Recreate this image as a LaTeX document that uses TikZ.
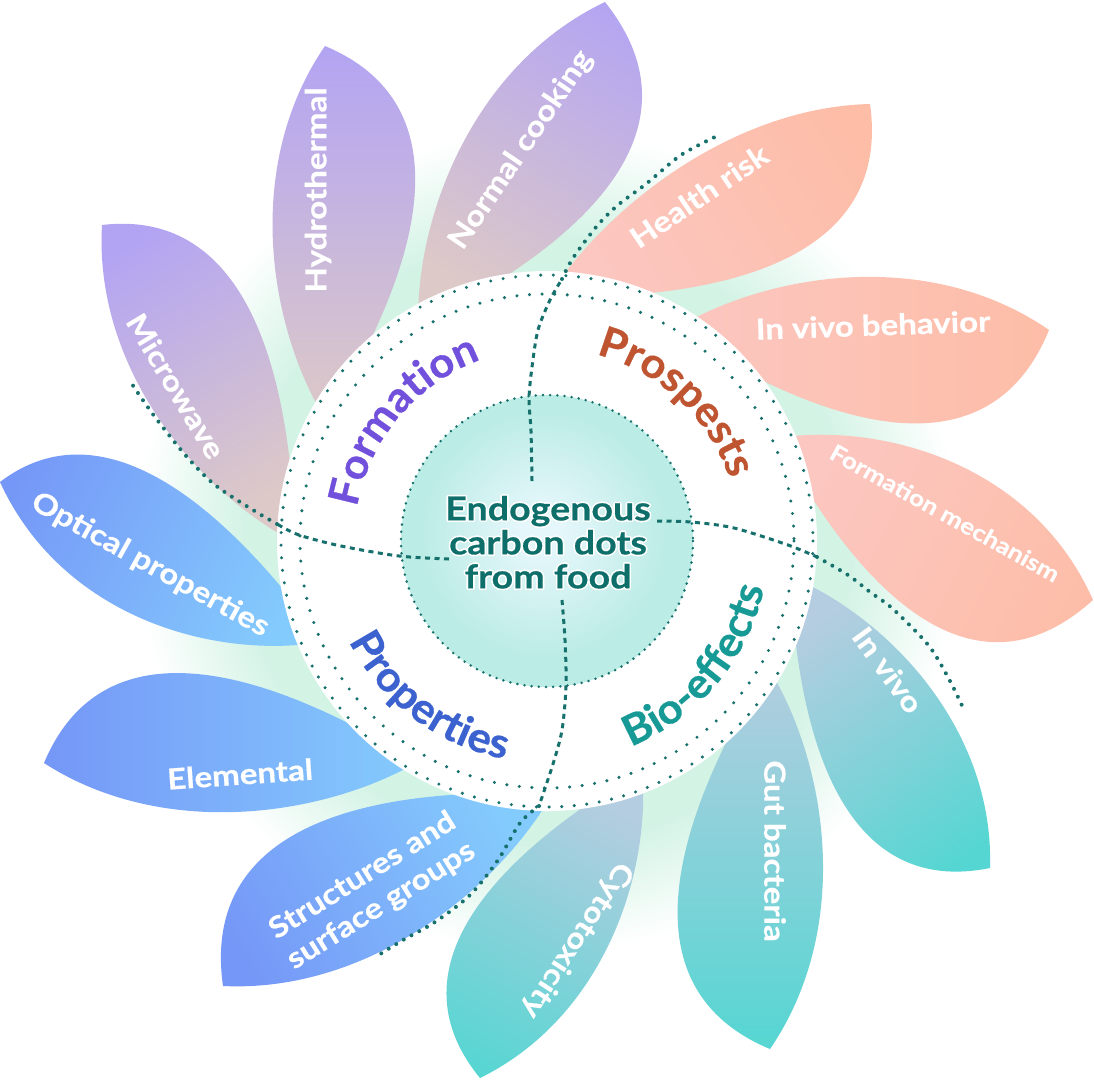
\documentclass[tikz,border=0pt]{standalone}
\usepackage{fontspec}
\setmainfont{Lato}[FakeStretch=1.14, BoldFeatures={FakeBold=0.5}]
\newfontfamily\catfam{Lato}[FakeStretch=1.04, BoldFeatures={FakeBold=0.6}]
\usepackage{contour}
\contourlength{1.5pt}
\usetikzlibrary{calc,decorations.text}

\definecolor{dotc}{HTML}{16706C}
\definecolor{haloc}{HTML}{D3F3E5}
\definecolor{purpT}{HTML}{B3A4F3}
\definecolor{purpB}{HTML}{DDC9C7}
\definecolor{salT}{HTML}{FDBDA7}
\definecolor{salB}{HTML}{FCC7C1}
\definecolor{tealT}{HTML}{55D6D2}
\definecolor{tealB}{HTML}{B4CDE0}
\definecolor{blueT}{HTML}{7597F7}
\definecolor{blueB}{HTML}{84CBFD}
\definecolor{formc}{HTML}{7150DC}
\definecolor{prosc}{HTML}{BF5430}
\definecolor{propc}{HTML}{3B62CF}
\definecolor{bioc}{HTML}{179A95}
\definecolor{centc}{HTML}{0E6F6A}
\definecolor{coreE}{HTML}{BCECE6}
\definecolor{coreC}{HTML}{E6F7FB}

% the 25bp radius of a radial shading maps onto the circle's radius
\pgfdeclareradialshading{halo}{\pgfpoint{0bp}{0bp}}{color(0bp)=(haloc); color(18bp)=(haloc); color(24.5bp)=(white); color(50bp)=(white)}
\pgfdeclareradialshading{core}{\pgfpoint{-1bp}{2bp}}{color(0bp)=(coreC); color(3bp)=(coreC); color(21bp)=(coreE); color(50bp)=(coreE)}

\newcommand\catfont{\catfam\fontsize{42}{42}\selectfont\bfseries}

% id, base, tip, ccw width, cw width, tip colour, base colour, shading angle
\newcommand\petal[8]{%
  \coordinate (#1B) at ($#2!-0.08!#3$);
  \coordinate (#1T) at #3;
  \coordinate (#1V) at ($(#1B)!1!90:(#1T)-(#1B)$);
  \shade[top color=#6, bottom color=#7, shading angle=#8]
    (#1B) .. controls ($(#1B)!0.25!(#1T)+{0.9*#4}*(#1V)$) and ($(#1B)!0.68!(#1T)+{1.3*#4}*(#1V)$) .. (#1T)
    .. controls ($(#1B)!0.8!(#1T)-{1.75*#5}*(#1V)$) and ($(#1B)!0.2!(#1T)-{0.45*#5}*(#1V)$) .. (#1B) -- cycle;
}

\begin{document}
\begin{tikzpicture}[x=1pt, y=-1pt,
  plabel/.style={text=white, font=\fontsize{29}{35}\selectfont\bfseries, inner sep=0pt, align=center},
  ringdot/.style={dotc, line width=3.4pt, line cap=round, dash pattern=on 0pt off 12.6pt},
  innerdot/.style={dotc, line width=2.8pt, line cap=round, dash pattern=on 0pt off 7.2pt},
  dashline/.style={dotc, line width=3pt, dash pattern=on 5pt off 4.5pt},
  petaldot/.style={dotc, line width=4pt, line cap=round, dash pattern=on 0pt off 8.8pt},
]
\useasboundingbox (0,0) rectangle (1094,1082);
\clip (0,0) rectangle (1094,1082);
\fill[white] (0,0) rectangle (1094,1082);
\coordinate (C) at (547,541);

% halo
\shade[shading=halo] (C) circle[radius=420];

% petals
\petal{mw}{(281,519)}{(102,225)}{0.17}{0.25}{purpT}{purpB}{31}
\petal{hy}{(326,393)}{(325,46)}{0.17}{0.27}{purpT}{purpB}{0}
\petal{nc}{(432,302)}{(605,2)}{0.17}{0.29}{purpT}{purpB}{-30}
\petal{hr}{(572,283)}{(870,104)}{0.14}{0.27}{salT}{salB}{-59}
\petal{ivb}{(701,330)}{(1049,330)}{0.17}{0.28}{salT}{salB}{-90}
\petal{fm}{(800,450)}{(1093,600)}{0.2}{0.3}{salT}{salB}{-116}
\petal{iv}{(805,598)}{(990,868)}{0.18}{0.27}{tealT}{tealB}{-145}
\petal{gb}{(768,695)}{(770,1049)}{0.17}{0.27}{tealT}{tealB}{-180}
\petal{ct}{(630,792)}{(480,1078)}{0.18}{0.27}{tealT}{tealB}{152}
\petal{st}{(528,808)}{(223,986)}{0.16}{0.28}{blueT}{blueB}{120}
\petal{el}{(390,762)}{(44,763)}{0.16}{0.27}{blueT}{blueB}{90}
\petal{op}{(300,630)}{(0,482)}{0.2}{0.23}{blueT}{blueB}{64}

% white ring disc
\fill[white] (C) circle[radius=270];
\draw[ringdot] (C) circle[radius=266];
\draw[ringdot] (C) circle[radius=247];

% core
\shade[shading=core] (C) circle[radius=146];
\draw[innerdot] (C) circle[radius=146];

% dividing curves
\draw[dashline] plot[smooth] coordinates {(532,481) (531,431) (529,399) (532,367) (538,330) (550,300) (562,279)};
\draw[petaldot] plot[smooth] coordinates {(562,279) (573,258) (597,226) (618,205) (646,184) (681,155) (717,136)};
\draw[dashline] plot[smooth] coordinates {(657,521) (691,522) (734,528) (788,545) (817,557)};
\draw[petaldot] plot[smooth] coordinates {(817,557) (848,575) (870,592) (893,609) (929,646) (950,681) (964,710)};
\draw[dashline] plot[smooth] coordinates {(562,600) (565,640) (566,686) (562,730) (553,764) (539,806)};
\draw[petaldot] plot[smooth] coordinates {(539,806) (520,823) (498,860) (470,895) (435,922) (403,940) (377,956)};
\draw[dashline] plot[smooth] coordinates {(449,559) (399,556) (341,546) (299,535) (277,524)};
\draw[petaldot] plot[smooth] coordinates {(277,524) (253,510) (215,485) (187,457) (158,421) (140,396) (130,381)};

% petal labels
\node[plabel, rotate=-59] (t1) at (176,386) {Microwave};
\node[plabel, rotate=90] (t2) at (318,190) {Hydrothermal};
\node[plabel, rotate=56] (t3) at (521,150) {Normal cooking};
\node[plabel, rotate=34] (t4) at (699,196) {Health risk};
\node[plabel, rotate=2] (t5) at (873,325) {In vivo behavior};
\node[plabel, rotate=-29, font=\fontsize{23}{25}\selectfont\bfseries] (t6) at (945,513) {Formation mechanism};
\node[plabel, rotate=-54] (t7) at (888,670) {In vivo};
\node[plabel, rotate=-90] (t8) at (775,851) {Gut bacteria};
\node[plabel, rotate=-123] (t9) at (577,940) {Cytotoxicity};
\node[plabel, rotate=32] (t10) at (372,891) {Structures and\\surface groups};
\node[plabel, rotate=4] (t11) at (240,774) {Elemental};
\node[plabel, rotate=-29] (t12) at (150,565) {Optical properties};

% category labels
\path[decorate, decoration={text along path, text align=center, text={|\catfont\color{formc}|Formation}}]
  ($(C)+(-176:193)$) arc[start angle=-176, end angle=-104, radius=193];
\path[decorate, decoration={text along path, text align=center, text={|\catfont\color{prosc}|Prospests}}]
  ($(C)+(-83:193)$) arc[start angle=-83, end angle=-11, radius=193];
\path[decorate, decoration={text along path, text align=center, text={|\catfont\color{propc}|Properties}}]
  ($(C)+(-196:222)$) arc[start angle=-196, end angle=-270, radius=222];
\path[decorate, decoration={text along path, text align=center, text={|\catfont\color{bioc}|Bio-effects}}]
  ($(C)+(77:222)$) arc[start angle=77, end angle=3, radius=222];

% centre text
\node[font=\fontsize{33}{34}\selectfont\bfseries, text=centc, align=center, inner sep=0pt] (ctr) at (548,543)
  {\contour{white}{Endogenous}\\\contour{white}{carbon dots}\\\contour{white}{from food}};
\end{tikzpicture}
\end{document}
